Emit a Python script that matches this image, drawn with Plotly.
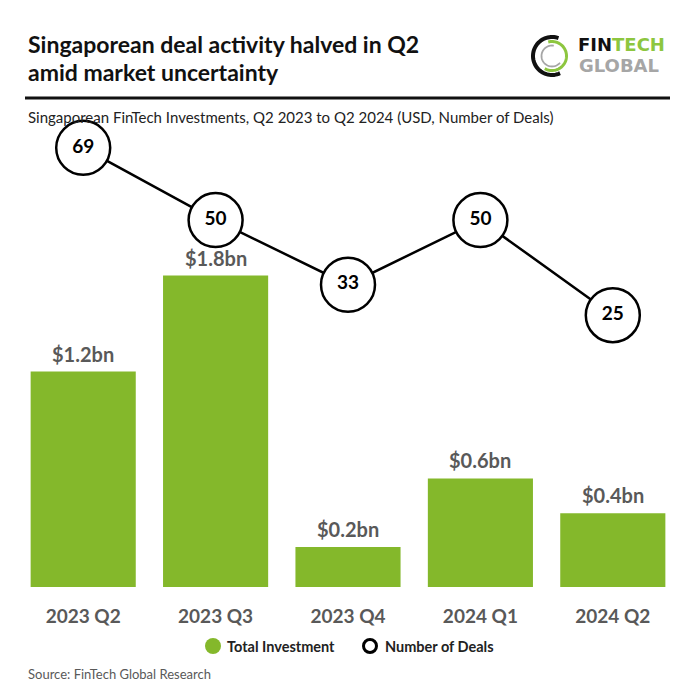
import math
import plotly.graph_objects as go

# ---- data ----
quarters = ["2023 Q2", "2023 Q3", "2023 Q4", "2024 Q1", "2024 Q2"]
investment_bn = [1.21, 1.75, 0.225, 0.61, 0.415]
investment_labels = ["$1.2bn", "$1.8bn", "$0.2bn", "$0.6bn", "$0.4bn"]
deals = [69, 50, 33, 50, 25]

GREEN = "#84B82B"
LOGO_GREEN = "#8DC63F"
GRAY_TXT = "#595959"
FONT = "Lato"

# page body has an 8px margin, so the figure is 680x680 and reference
# pixel positions are shifted by OFF
OFF = 8
W, H = 680, 680
ML, MR, MT, MB = 9, 9, 122, 101
PW = W - ML - MR
PH = H - MT - MB
PX_PER_BN = 178.0


def X(px):
    return (px - OFF - ML) / PW


def Y(py):
    return (H - MB - (py - OFF)) / PH


fig = go.Figure()

fig.add_trace(go.Bar(
    x=quarters, y=investment_bn,
    marker=dict(color=GREEN, line=dict(width=0)),
    showlegend=False, hoverinfo="skip",
))

fig.add_trace(go.Scatter(
    x=quarters, y=deals, yaxis="y2",
    mode="lines+markers+text",
    line=dict(color="black", width=2.5),
    marker=dict(size=54, color="white", line=dict(color="black", width=2.5)),
    text=[str(d) for d in deals], textposition="middle center",
    textfont=dict(family=FONT, size=19, color="black", weight="bold"),
    cliponaxis=False, showlegend=False, hoverinfo="skip",
))

# bar value labels
for q, v, lab in zip(quarters, investment_bn, investment_labels):
    fig.add_annotation(
        x=q, y=v, xref="x", yref="y", text=lab, showarrow=False,
        yanchor="bottom", yshift=4,
        font=dict(family=FONT, size=20, color=GRAY_TXT, weight="bold"),
    )

fig.update_layout(
    width=W, height=H,
    margin=dict(l=ML, r=MR, t=MT, b=MB),
    paper_bgcolor="white", plot_bgcolor="white",
    bargap=0.206,
    font=dict(family=FONT),
    showlegend=False,
    xaxis=dict(
        range=[-0.5, 4.5], showgrid=False, zeroline=False, showline=False, ticks="",
        tickfont=dict(family=FONT, size=19, color=GRAY_TXT, weight="bold"),
        ticklabelstandoff=16,
    ),
    yaxis=dict(range=[0, PH / PX_PER_BN], visible=False, showgrid=False, zeroline=False),
    yaxis2=dict(range=[-46.5, 73.7], overlaying="y", visible=False, showgrid=False, zeroline=False),
    hovermode=False,
)

def text_at(txt, px, py, size, color="#111111", weight="normal", family=FONT):
    fig.add_annotation(
        text=txt, xref="paper", yref="paper", x=X(px), y=Y(py),
        xanchor="left", yanchor="middle", showarrow=False, align="left",
        font=dict(family=family, size=size, color=color, weight=weight),
    )

# title, subtitle, source
text_at("Singaporean deal activity halved in Q2", 26, 44, 23, "#111111", "bold")
text_at("amid market uncertainty", 26, 72, 23, "#111111", "bold")
text_at("Singaporean FinTech Investments, Q2 2023 to Q2 2024 (USD, Number of Deals)",
        26, 117, 15, "#222222")
text_at("Source: FinTech Global Research", 26, 674, 13, GRAY_TXT)

# rule under title
fig.add_shape(type="line", xref="paper", yref="paper",
              x0=X(25), x1=X(670), y0=Y(98), y1=Y(98),
              line=dict(color="#111111", width=3))

# legend (manual)
def circle_at(cx, cy, r, fill, line_color, line_width):
    fig.add_shape(type="circle", xref="paper", yref="paper",
                  x0=X(cx - r), x1=X(cx + r), y0=Y(cy + r), y1=Y(cy - r),
                  fillcolor=fill, line=dict(color=line_color, width=line_width))

circle_at(213, 646, 8, GREEN, GREEN, 0)
text_at("Total Investment", 225, 646, 14.5, "#222222", "bold")
circle_at(370, 646, 6.5, "white", "black", 3)
text_at("Number of Deals", 383, 646, 14.5, "#222222", "bold")

# logo rings
def arc_path(cx, cy, r, a0, a1, n=48):
    pts = []
    for i in range(n + 1):
        a = math.radians(a0 + (a1 - a0) * i / n)
        pts.append((X(cx + r * math.cos(a)), Y(cy - r * math.sin(a))))
    return "M " + " L ".join(f"{x:.5f},{y:.5f}" for x, y in pts)

cx, cy = 552, 56
fig.add_shape(type="path", xref="paper", yref="paper", path=arc_path(cx, cy, 19, 70, 295),
              line=dict(color="#111111", width=4))
fig.add_shape(type="path", xref="paper", yref="paper", path=arc_path(cx, cy, 14.5, -120, 105),
              line=dict(color=LOGO_GREEN, width=3))
fig.add_shape(type="path", xref="paper", yref="paper", path=arc_path(cx, cy, 10.5, 80, 320),
              line=dict(color="#A6A6A6", width=1.8))

# logo wordmark
text_at("FIN<span style='color:%s'>TECH</span>" % LOGO_GREEN,
        576, 44.4, 18, "#111111", "bold", "DejaVu Sans")
text_at("GLOBAL", 577, 65.6, 18, "#A6A6A6", "bold", "DejaVu Sans")

fig.write_html("out.html")
